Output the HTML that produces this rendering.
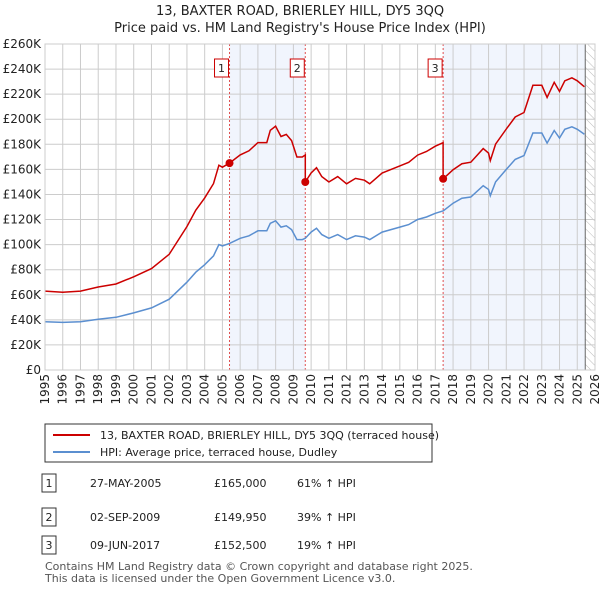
<!DOCTYPE html>
<html><head><meta charset="utf-8"><style>
body{margin:0;background:#fff;font-family:"Liberation Sans",sans-serif;}
svg text{font-family:"DejaVu Sans","Liberation Sans",sans-serif;}
</style></head><body>
<svg id="c" width="600" height="590" xmlns="http://www.w3.org/2000/svg">
<defs><pattern id="hatch" width="6" height="6" patternUnits="userSpaceOnUse" patternTransform="rotate(-45)"><line x1="0" y1="0" x2="0" y2="6" stroke="#bbb" stroke-width="1"/></pattern></defs>
<text x="300" y="15" text-anchor="middle" font-size="13" fill="#222">13, BAXTER ROAD, BRIERLEY HILL, DY5 3QQ</text>
<text x="300" y="32" text-anchor="middle" font-size="13" fill="#222">Price paid vs. HM Land Registry's House Price Index (HPI)</text>
<g id="plot"></g>
<g>
<rect x="45" y="424" width="387" height="38" fill="#fff" stroke="#333" stroke-width="1"/>
<line x1="53" y1="435" x2="90" y2="435" stroke="#cc0000" stroke-width="2"/>
<text x="100" y="439" font-size="11" fill="#222">13, BAXTER ROAD, BRIERLEY HILL, DY5 3QQ (terraced house)</text>
<line x1="53" y1="452" x2="90" y2="452" stroke="#5b8fd0" stroke-width="2"/>
<text x="100" y="456" font-size="11" fill="#222">HPI: Average price, terraced house, Dudley</text>
</g>
<g id="tbl" font-size="11" fill="#222"></g>
<text x="45" y="570" font-size="11" fill="#555">Contains HM Land Registry data © Crown copyright and database right 2025.</text>
<text x="45" y="582" font-size="11" fill="#555">This data is licensed under the Open Government Licence v3.0.</text>
</svg>
<script>
const hpiYears=[1995,1996,1997,1998,1999,2000,2001,2002,2003,2003.5,2004,2004.5,2004.8,2005,2005.4,2006,2006.5,2007,2007.5,2007.7,2008,2008.3,2008.6,2008.9,2009.2,2009.5,2009.67,2010,2010.3,2010.6,2011,2011.5,2012,2012.5,2013,2013.3,2014,2015,2015.5,2016,2016.5,2017,2017.45,2018,2018.5,2019,2019.7,2020,2020.1,2020.4,2021,2021.5,2022,2022.5,2023,2023.3,2023.7,2024,2024.3,2024.7,2025,2025.4];
const hpiValues=[38.5,38,38.5,40.5,42,45.5,49.5,56.5,70,78,84,91,100,99,101,105,107,111,111,117,119,114,115,112,104,104,105,110,113,108,105,108,104,107,106,104,110,114,116,120,122,125,127,133,137,138,147,144,139,150,160,168,171,189,189,181,191,185,192,194,192,188];
const saleLabels=["1","2","3"];
const saleDates=[2005.4,2009.67,2017.44];
const saleDateText=["27-MAY-2005","02-SEP-2009","09-JUN-2017"];
const salePrices=[165,149.95,152.5];
const salePriceText=["£165,000","£149,950","£152,500"];
const saleHpiText=["61% ↑ HPI","39% ↑ HPI","19% ↑ HPI"];
const yTicks=[0,20,40,60,80,100,120,140,160,180,200,220,240,260];
const xTicks=[1995,1996,1997,1998,1999,2000,2001,2002,2003,2004,2005,2006,2007,2008,2009,2010,2011,2012,2013,2014,2015,2016,2017,2018,2019,2020,2021,2022,2023,2024,2025,2026];
const dataEnd=2025.45;

const L=45,R=595,T=44,B=370,X0=1995,X1=2026;
const sx=v=>L+(v-X0)/(X1-X0)*(R-L);
const sy=v=>B-v/260*(B-T);
const NS="http://www.w3.org/2000/svg";
const g=document.getElementById('plot');
function mk(tag,at,parent){const e=document.createElementNS(NS,tag);for(const k in at)e.setAttribute(k,at[k]);(parent||g).appendChild(e);return e;}
function hpiAt(t){for(let i=0;i<hpiYears.length-1;i++){if(t>=hpiYears[i]&&t<=hpiYears[i+1]){const f=(t-hpiYears[i])/(hpiYears[i+1]-hpiYears[i]);return hpiValues[i]+f*(hpiValues[i+1]-hpiValues[i]);}}return hpiValues[hpiValues.length-1];}

// shaded ownership bands
for(let i=0;i<saleDates.length;i+=2){
  const end=i+1<saleDates.length?saleDates[i+1]:dataEnd;
  const r=mk('rect',{x:sx(saleDates[i]),y:T,width:sx(end)-sx(saleDates[i]),height:B-T,fill:'#eef3fc',opacity:0.8});
  
  
}
const h=mk('rect',{x:sx(dataEnd),y:T,width:R-sx(dataEnd),height:B-T,fill:'url(#hatch)'});


// grid
yTicks.forEach(v=>{
  const l=mk('line',{x1:L,x2:R,y1:sy(v),y2:sy(v),stroke:'#cccccc','stroke-width':1});
  
  
  const t=mk('text',{x:L-4,y:sy(v)+4,'text-anchor':'end','font-size':12,fill:'#222'});
  t.textContent=v===0?'£0':'£'+v+'K';
  
  
});
xTicks.forEach(v=>{
  const l=mk('line',{x1:sx(v),x2:sx(v),y1:T,y2:B,stroke:'#cccccc','stroke-width':1});
  
  
  const t=mk('text',{x:0,y:0,'text-anchor':'end','font-size':12,fill:'#222',transform:`translate(${sx(v)+4},${B+4}) rotate(-90)`});
  t.textContent=v;
  
  
});
mk('line',{x1:sx(dataEnd),x2:sx(dataEnd),y1:T,y2:B,stroke:'#666','stroke-width':1});
// sale vertical lines and markers
saleDates.forEach((d,i)=>{
  const l=mk('line',{x1:sx(d),x2:sx(d),y1:T,y2:B,stroke:'#e05050','stroke-width':1,'stroke-dasharray':'2,2'});
  
  
  const bx=mk('rect',{x:sx(d)-15,y:59,width:14,height:18,fill:'#fff',stroke:'#cc0000'});
  
  
  const t=mk('text',{x:sx(d)-8,y:72,'text-anchor':'middle','font-size':11,fill:'#222'});
  t.textContent=saleLabels[i];
  
  
});
// HPI line
let dh='';hpiYears.forEach((y,i)=>{dh+=(i?'L':'M')+sx(y).toFixed(1)+','+sy(hpiValues[i]).toFixed(1);});
const hp=mk('path',{d:dh,fill:'none',stroke:'#5b8fd0','stroke-width':1.5});


// price line: HPI scaled by ratio from most recent sale
const ratios=saleDates.map((d,i)=>salePrices[i]/hpiAt(d));
function ratioAt(t){let r=ratios[0];saleDates.forEach((d,i)=>{if(t>=d)r=ratios[i];});return r;}
let pts=[];hpiYears.forEach((y,i)=>pts.push([y,hpiValues[i]]));
saleDates.forEach(d=>{pts.push([d-0.001,hpiAt(d)]);pts.push([d,hpiAt(d)]);});
pts.sort((a,b)=>a[0]-b[0]);
let dp='';pts.forEach((p,i)=>{const r=(i>0&&Math.abs(p[0]-pts[i-1][0])<0.01&&p[0]>pts[i-1][0])?ratioAt(p[0]):ratioAt(p[0]);dp+=(i?'L':'M')+sx(p[0]).toFixed(1)+','+sy(p[1]*r).toFixed(1);});
const pp=mk('path',{d:dp,fill:'none',stroke:'#cc0000','stroke-width':1.5});


saleDates.forEach((d,i)=>{
  const c=mk('circle',{cx:sx(d),cy:sy(salePrices[i]),r:4,fill:'#cc0000'});
  
  
});
mk('rect',{x:L,y:T,width:R-L,height:B-T,fill:'none',stroke:'#cccccc'});
// table
const tb=document.getElementById('tbl');
const rowY=[483,517,545];
saleLabels.forEach((s,i)=>{
  const y=rowY[i];
  const b=mk('rect',{x:42,y:y-9,width:14,height:18,fill:'#fff',stroke:'#333'},tb);
  
  
  const vals=[[s,49,'middle'],[saleDateText[i],90,'start'],[salePriceText[i],214,'start'],[saleHpiText[i],297,'start']];
  vals.forEach(v=>{const t=mk('text',{x:v[1],y:y+4,'text-anchor':v[2]},tb);t.textContent=v[0];
    
    });
});
</script>
</body></html>
